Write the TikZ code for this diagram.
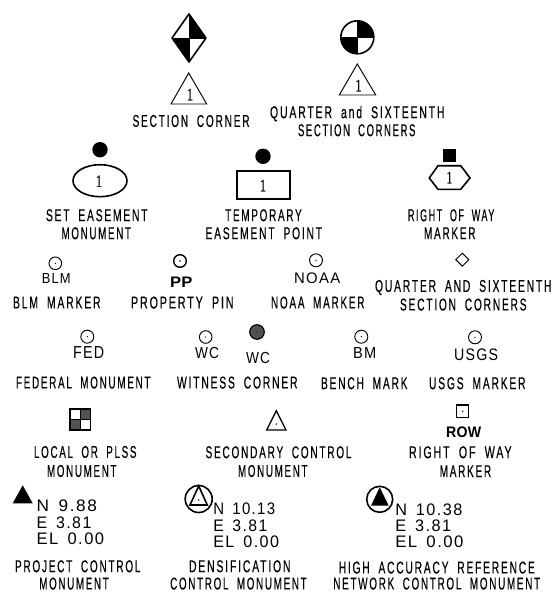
\documentclass[tikz,border=0pt]{standalone}
\usepackage{fontspec}
\usepackage{graphicx}
\newfontfamily\cadfont[LetterSpace=17,FakeBold=0.35]{Liberation Sans}
\newfontfamily\valbase[LetterSpace=9]{Liberation Sans}
\newfontfamily\boldcad[LetterSpace=2]{Liberation Sans Bold}
\newfontfamily\numfont[FakeBold=0.4]{Liberation Serif}
\newcommand\capf{\cadfont\def\lblgap{.85em}}
\newcommand\valfont{\valbase\def\lblgap{.55em}}
\def\lblgap{.6em}
\newsavebox\lblbox
% name, x, y, width, height, text, font
\newcommand\fitlbl[7]{\node[txt] (#1) at (#2,#3) {\fontsize{10pt}{12pt}\selectfont\sbox\lblbox{#7\spaceskip=\lblgap\relax#6\unskip\kern-.15em}\pgfmathsetmacro\lblsx{#4/\the\wd\lblbox}\pgfmathsetmacro\lblsy{#5/7.2}\raisebox{0pt}[#5pt][0pt]{\scalebox{\lblsx}[\lblsy]{\usebox\lblbox}}};}
\newcommand\capl[5]{\fitlbl{#1}{#2}{#3}{#4}{12.3}{#5}{\capf}}
\tikzset{
 x=1pt,y=-1pt,
 txt/.style={inner sep=0pt,outer sep=0pt,anchor=center},
 thick line/.style={draw=black,line width=1.6pt,line join=miter},
 mid line/.style={draw=black,line width=1.1pt},
 thin line/.style={draw=black,line width=0.95pt},
 darkfill/.style={fill=black!68}
}
\begin{document}
\begin{tikzpicture}
\useasboundingbox (0,0) rectangle (556,592);
% section corner
\fill (189,14) -- (189,38) -- (206,38) -- cycle;
\fill (189,62) -- (189,38) -- (172,38) -- cycle;
\draw[thick line,line join=round] (189,14) -- (206,38) -- (189,62) -- (172,38) -- cycle;
\draw[thin line] (189,14) -- (189,62) (172,38) -- (206,38);
\draw[thin line] (188.7,73) -- (206.7,104) -- (171,104) -- cycle;
\fitlbl{n1}{189}{94}{4.5}{12.5}{1}{\numfont}
\capl{l1}{190.3}{120.7}{115.5}{SECTION CORNER}
% quarter
\fill (357.3,37.3) -- (357.3,20.8) arc (-90:0:16.5) -- cycle;
\fill (357.3,37.3) -- (357.3,53.8) arc (90:180:16.5) -- cycle;
\draw[thick line] (357.3,37.3) circle (16.5);
\draw[thin line] (340.8,37.3) -- (373.8,37.3) (357.3,20.8) -- (357.3,53.8);
\draw[thin line] (357.3,64) -- (375.7,95) -- (339.3,95) -- cycle;
\fitlbl{n2}{357.5}{85}{4.5}{12.5}{1}{\numfont}
\capl{l2a}{356.5}{112}{173}{QUARTER and SIXTEENTH}
\capl{l2b}{356}{130}{116}{SECTION CORNERS}
% set easement
\fill (100,149.7) circle (7.7);
\draw[thick line] (100,180.7) ellipse (27 and 16);
\fitlbl{n3}{98}{180.7}{4.5}{12.5}{1}{\numfont}
\capl{l3a}{96}{215}{100}{SET EASEMENT}
\capl{l3b}{95.5}{233}{68}{MONUMENT}
% temporary
\fill (263,156.3) circle (7.7);
\draw[thick line] (236.7,170.7) rectangle (289.7,199);
\fitlbl{n4}{262}{185}{4.5}{12.5}{1}{\numfont}
\capl{l4a}{262.7}{215}{75}{TEMPORARY}
\capl{l4b}{263}{233}{115}{EASEMENT POINT}
% right of way hex
\fill (443,149) rectangle (456,161.7);
\draw[thick line] (429.3,178) -- (438,165.7) -- (460.7,165.7) -- (470,178) -- (460.7,189.3) -- (438,189.3) -- cycle;
\fitlbl{n5}{448.5}{177}{4}{12.5}{1}{\numfont}
\capl{l5a}{450.5}{215}{85}{RIGHT OF WAY}
\capl{l5b}{449}{233}{50}{MARKER}
% BLM
\draw[thin line] (55.3,263.3) circle (6.3);
\fill (55.3,263.3) circle (0.7);
\fitlbl{t6}{55.3}{278.3}{27}{10.5}{BLM}{\valfont}
\capl{l6}{56}{302.3}{86}{BLM MARKER}
% PP
\draw[mid line,line width=1.4pt] (180,261) circle (6.3);
\fill (180,261) circle (0.9);
\fitlbl{t7}{180}{282}{20}{11}{PP}{\boldcad}
\capl{l7}{181.5}{302.3}{101}{PROPERTY PIN}
% NOAA
\draw[thin line] (316,260.3) circle (6.5);
\fill (316,260.3) circle (0.7);
\fitlbl{t8}{316}{277.7}{44}{11}{NOAA}{\valfont}
\capl{l8}{317}{302.3}{92}{NOAA MARKER}
% small diamond
\draw[thin line] (462.3,253.2) -- (468.8,259.7) -- (462.3,266.2) -- (455.8,259.7) -- cycle;
\capl{l9a}{462.5}{285.7}{175}{QUARTER AND SIXTEENTH}
\capl{l9b}{462.5}{304.3}{125}{SECTION CORNERS}
% FED
\draw[thin line] (87.3,336.7) circle (6.5);
\fill (87.3,336.7) circle (0.7);
\fitlbl{t10}{87.5}{352.7}{29}{12.5}{FED}{\valfont}
\capl{l10}{82.5}{382.3}{133}{FEDERAL MONUMENT}
% WC
\draw[thin line] (205.7,337) circle (6.3);
\fill (205.7,337) circle (0.7);
\fitlbl{t11}{206}{352.7}{22}{11.5}{WC}{\valfont}
\draw[mid line,darkfill] (257,332) circle (7.3);
\fill (257,332) circle (0.6);
\fitlbl{t12}{257}{358}{22}{11.5}{WC}{\valfont}
\capl{l11}{236.5}{382.3}{119}{WITNESS CORNER}
% BM
\draw[thin line] (361.3,336.7) circle (6.5);
\fill (361.3,336.7) circle (0.7);
\fitlbl{t13}{363.5}{352.3}{21}{11.5}{BM}{\valfont}
\capl{l13}{363.5}{383}{85}{BENCH MARK}
% USGS
\draw[thin line] (475,337.3) circle (6.5);
\fill (475,337.3) circle (0.7);
\fitlbl{t14}{475}{354}{42}{12}{USGS}{\valfont}
\capl{l14}{476.5}{383}{95}{USGS MARKER}
% Local or PLSS
\fill[black!68] (80.3,409) rectangle (90.7,419.5) (70,419.5) rectangle (80.3,430);
\draw[mid line] (70,409) rectangle (90.7,430) (80.3,409) -- (80.3,430) (70,419.5) -- (90.7,419.5);
\capl{l15a}{84.5}{451.7}{101}{LOCAL OR PLSS}
\capl{l15b}{81}{470.7}{68}{MONUMENT}
% Secondary
\draw[mid line,line width=1.3pt] (276.3,410.7) -- (286,430) -- (266.7,430) -- cycle;
\fill (276.3,424) circle (0.8);
\capl{l16a}{277.8}{452}{144.5}{SECONDARY CONTROL}
\capl{l16b}{272}{470.7}{68}{MONUMENT}
% ROW
\draw[mid line] (456.7,405) rectangle (468.7,417.7);
\fill (462.7,411.3) circle (0.8);
\fitlbl{t17}{462.7}{431.7}{33}{11}{ROW}{\boldcad}
\capl{l17a}{459.5}{452}{101}{RIGHT OF WAY}
\capl{l17b}{464.7}{471}{50}{MARKER}
% Project control
\fill (22.7,485.3) -- (32.7,503.3) -- (12.7,503.3) -- cycle;
\fitlbl{v1a}{65.5}{505.7}{57.6}{12}{N 9.88}{\valfont}
\fitlbl{v1b}{62.85}{522.3}{52.3}{12}{E 3.81}{\valfont}
\fitlbl{v1c}{69.2}{538.3}{65}{12}{EL 0.00}{\valfont}
\capl{l18a}{77}{566}{124}{PROJECT CONTROL}
\capl{l18b}{73.3}{583.3}{68}{MONUMENT}
% Densification
\draw[thick line] (198.7,499) circle (13.5);
\draw[thick line] (198.7,486) -- (207.3,505) -- (190,505) -- cycle;
\fill (198.7,500) circle (0.8);
\fitlbl{v2a}{243.15}{508.3}{59.7}{12}{N 10.13}{\valfont}
\fitlbl{v2b}{239.15}{525}{51.7}{12}{E 3.81}{\valfont}
\fitlbl{v2c}{245}{541.7}{63.4}{12}{EL 0.00}{\valfont}
\capl{l19a}{239}{566}{100}{DENSIFICATION}
\capl{l19b}{237.7}{583.3}{135}{CONTROL MONUMENT}
% HARN
\draw[thick line] (379.7,499.3) circle (13);
\fill (379.7,487.3) -- (388.7,505.7) -- (371,505.7) -- cycle;
\fitlbl{v3a}{427.65}{509.3}{64.7}{12}{N 10.38}{\valfont}
\fitlbl{v3b}{422}{525}{53.4}{12}{E 3.81}{\valfont}
\fitlbl{v3c}{428.15}{541.7}{65.7}{12}{EL 0.00}{\valfont}
\capl{l20a}{436}{567.3}{194.6}{HIGH ACCURACY REFERENCE}
\capl{l20b}{436}{583.3}{205.4}{NETWORK CONTROL MONUMENT}
\end{tikzpicture}
\end{document}
